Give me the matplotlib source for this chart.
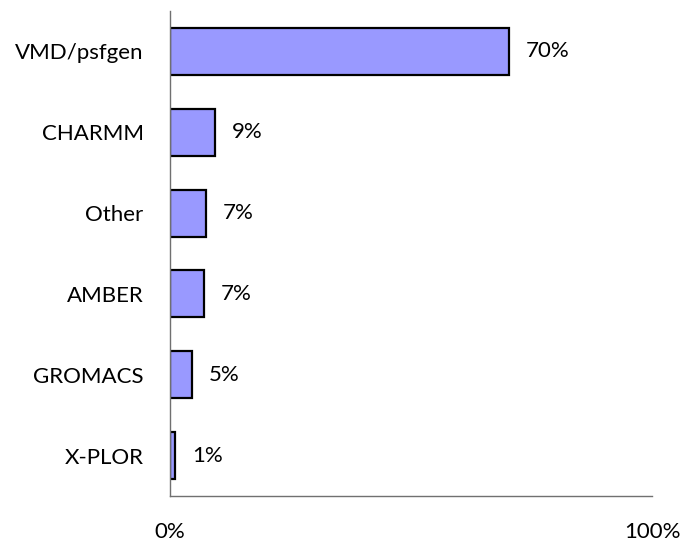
import matplotlib
matplotlib.use("Agg")
import matplotlib.pyplot as plt

categories = ["VMD/psfgen", "CHARMM", "Other", "AMBER", "GROMACS", "X-PLOR"]
values = [70.3, 9.3, 7.4, 7.0, 4.6, 1.0]
labels = ["70%", "9%", "7%", "7%", "5%", "1%"]
xticks = [0, 100]
xticklabels = ["0%", "100%"]

plt.rcParams['font.family'] = ['Lato', 'DejaVu Sans']
FS = 16

fig = plt.figure(figsize=(6.85, 5.42), dpi=100)
ax = fig.add_axes([170/685, 1-496/542, 482/685, 485/542])

ypos = list(range(len(categories)))
ax.barh(ypos, values, height=0.58, color="#9999FF", edgecolor="black", linewidth=1.6)
for y, v, l in zip(ypos, values, labels):
    ax.annotate(l, (v, y), xytext=(17, 0), textcoords="offset pixels",
                ha="left", va="center", fontsize=FS, color="black")

ax.set_ylim(len(categories) - 0.5, -0.5)
ax.set_xlim(0, 100)
ax.set_yticks(ypos)
ax.set_yticklabels(categories, fontsize=FS)
ax.set_xticks(xticks)
ax.set_xticklabels(xticklabels, fontsize=FS)
ax.tick_params(axis="both", length=0)
ax.tick_params(axis="y", pad=19)
ax.tick_params(axis="x", pad=19)
for s in ["top", "right"]:
    ax.spines[s].set_visible(False)
for s in ["left", "bottom"]:
    ax.spines[s].set_color("#707070")
    ax.spines[s].set_linewidth(1.0)

fig.savefig("out.png", dpi=100)
